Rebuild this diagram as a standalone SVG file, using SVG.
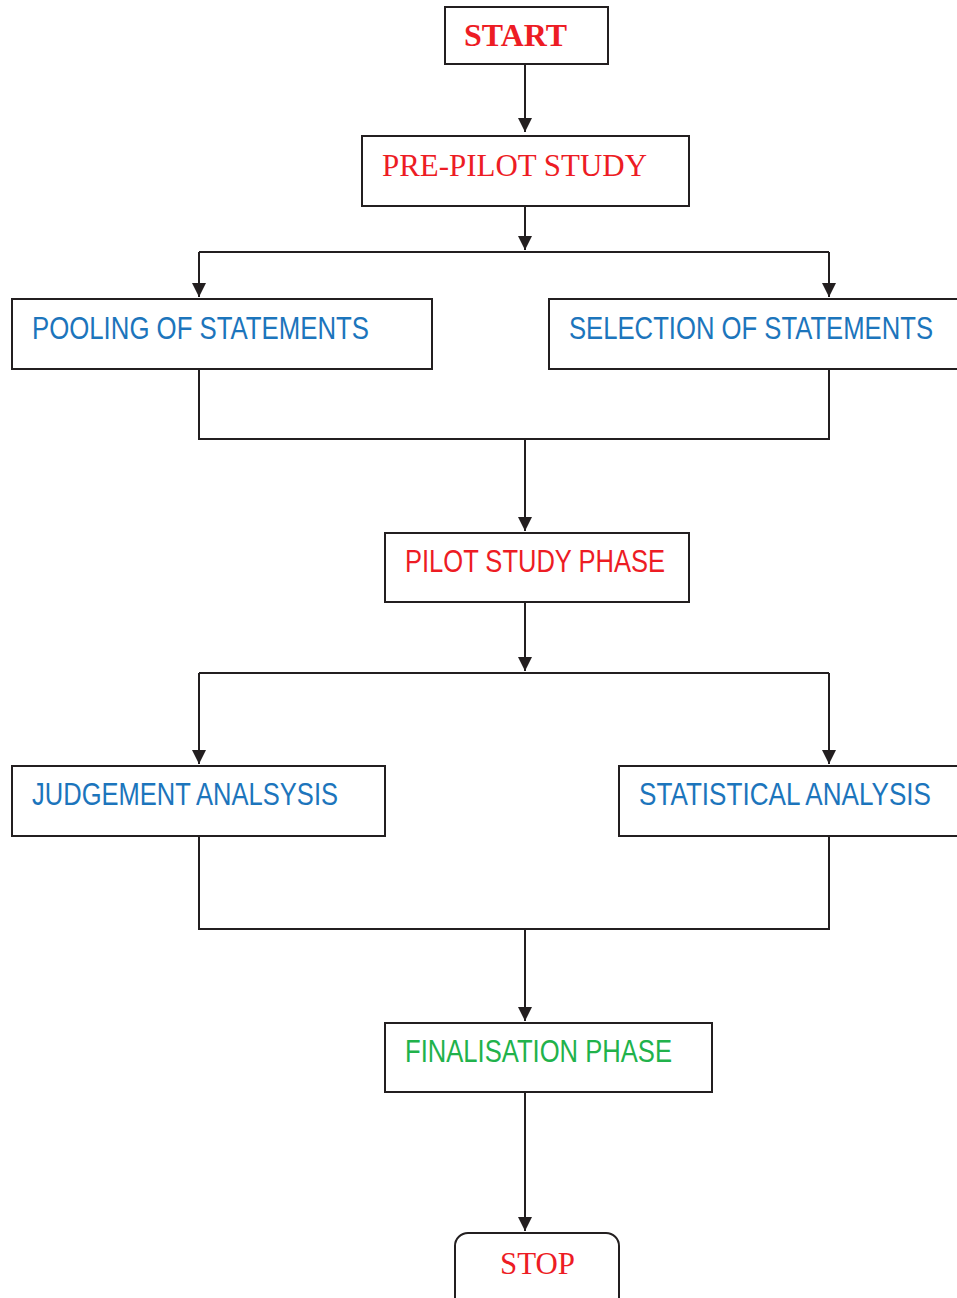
<svg xmlns="http://www.w3.org/2000/svg" width="957" height="1298" viewBox="0 0 957 1298">
<style>
.box{fill:#fff;stroke:#231f20;stroke-width:2}
.ln{fill:none;stroke:#231f20;stroke-width:2}
.serif{font-family:"Liberation Serif","Times New Roman",serif;font-size:31px}
.sans{font-family:"Liberation Sans Narrow","Liberation Sans",Arial,sans-serif;font-size:32px}
.red{fill:#ed1c24}
.blue{fill:#1c75bc}
.green{fill:#21b24b}
</style>
<defs>
<marker id="ah" markerUnits="userSpaceOnUse" markerWidth="14" markerHeight="14" refX="14" refY="7" orient="auto">
<path d="M0,0 L14,7 L0,14 Z" fill="#231f20"/>
</marker>
</defs>
<rect width="957" height="1298" fill="#fff"/>
<g id="connectors">
<path class="ln" d="M525,64 V132" marker-end="url(#ah)"/>
<path class="ln" d="M525,206 V250" marker-end="url(#ah)"/>
<path class="ln" d="M199,252 H829"/>
<path class="ln" d="M199,252 V297" marker-end="url(#ah)"/>
<path class="ln" d="M829,252 V297" marker-end="url(#ah)"/>
<path class="ln" d="M199,369 V439 H829 V369"/>
<path class="ln" d="M525,439 V531" marker-end="url(#ah)"/>
<path class="ln" d="M525,602 V671" marker-end="url(#ah)"/>
<path class="ln" d="M199,673 H829"/>
<path class="ln" d="M199,673 V764" marker-end="url(#ah)"/>
<path class="ln" d="M829,673 V764" marker-end="url(#ah)"/>
<path class="ln" d="M199,836 V929 H829 V836"/>
<path class="ln" d="M525,929 V1021" marker-end="url(#ah)"/>
<path class="ln" d="M525,1092 V1231" marker-end="url(#ah)"/>
</g>
<g id="start">
<rect class="box" x="445" y="7" width="163" height="57"/>
<text class="serif red" x="464" y="46" font-weight="bold" textLength="103" lengthAdjust="spacingAndGlyphs">START</text>
</g>
<g id="prepilot">
<rect class="box" x="362" y="136" width="327" height="70"/>
<text class="serif red" x="382" y="176" textLength="265" lengthAdjust="spacingAndGlyphs">PRE-PILOT STUDY</text>
</g>
<g id="pooling">
<rect class="box" x="12" y="299" width="420" height="70"/>
<text class="sans blue" x="32" y="339" textLength="337" lengthAdjust="spacingAndGlyphs">POOLING OF STATEMENTS</text>
</g>
<g id="selection">
<rect class="box" x="549" y="299" width="420" height="70"/>
<text class="sans blue" x="569" y="339" textLength="364" lengthAdjust="spacingAndGlyphs">SELECTION OF STATEMENTS</text>
</g>
<g id="pilot">
<rect class="box" x="385" y="533" width="304" height="69"/>
<text class="sans red" x="405" y="572" textLength="260" lengthAdjust="spacingAndGlyphs">PILOT STUDY PHASE</text>
</g>
<g id="judgement">
<rect class="box" x="12" y="766" width="373" height="70"/>
<text class="sans blue" x="32" y="805" textLength="306" lengthAdjust="spacingAndGlyphs">JUDGEMENT ANALSYSIS</text>
</g>
<g id="statistical">
<rect class="box" x="619" y="766" width="350" height="70"/>
<text class="sans blue" x="639" y="805" textLength="292" lengthAdjust="spacingAndGlyphs">STATISTICAL ANALYSIS</text>
</g>
<g id="finalisation">
<rect class="box" x="385" y="1023" width="327" height="69"/>
<text class="sans green" x="405" y="1062" textLength="267" lengthAdjust="spacingAndGlyphs">FINALISATION PHASE</text>
</g>
<g id="stop">
<rect class="box" x="455" y="1233" width="164" height="80" rx="13" ry="13"/>
<text class="serif red" x="500" y="1274" textLength="75" lengthAdjust="spacingAndGlyphs">STOP</text>
</g>
</svg>
